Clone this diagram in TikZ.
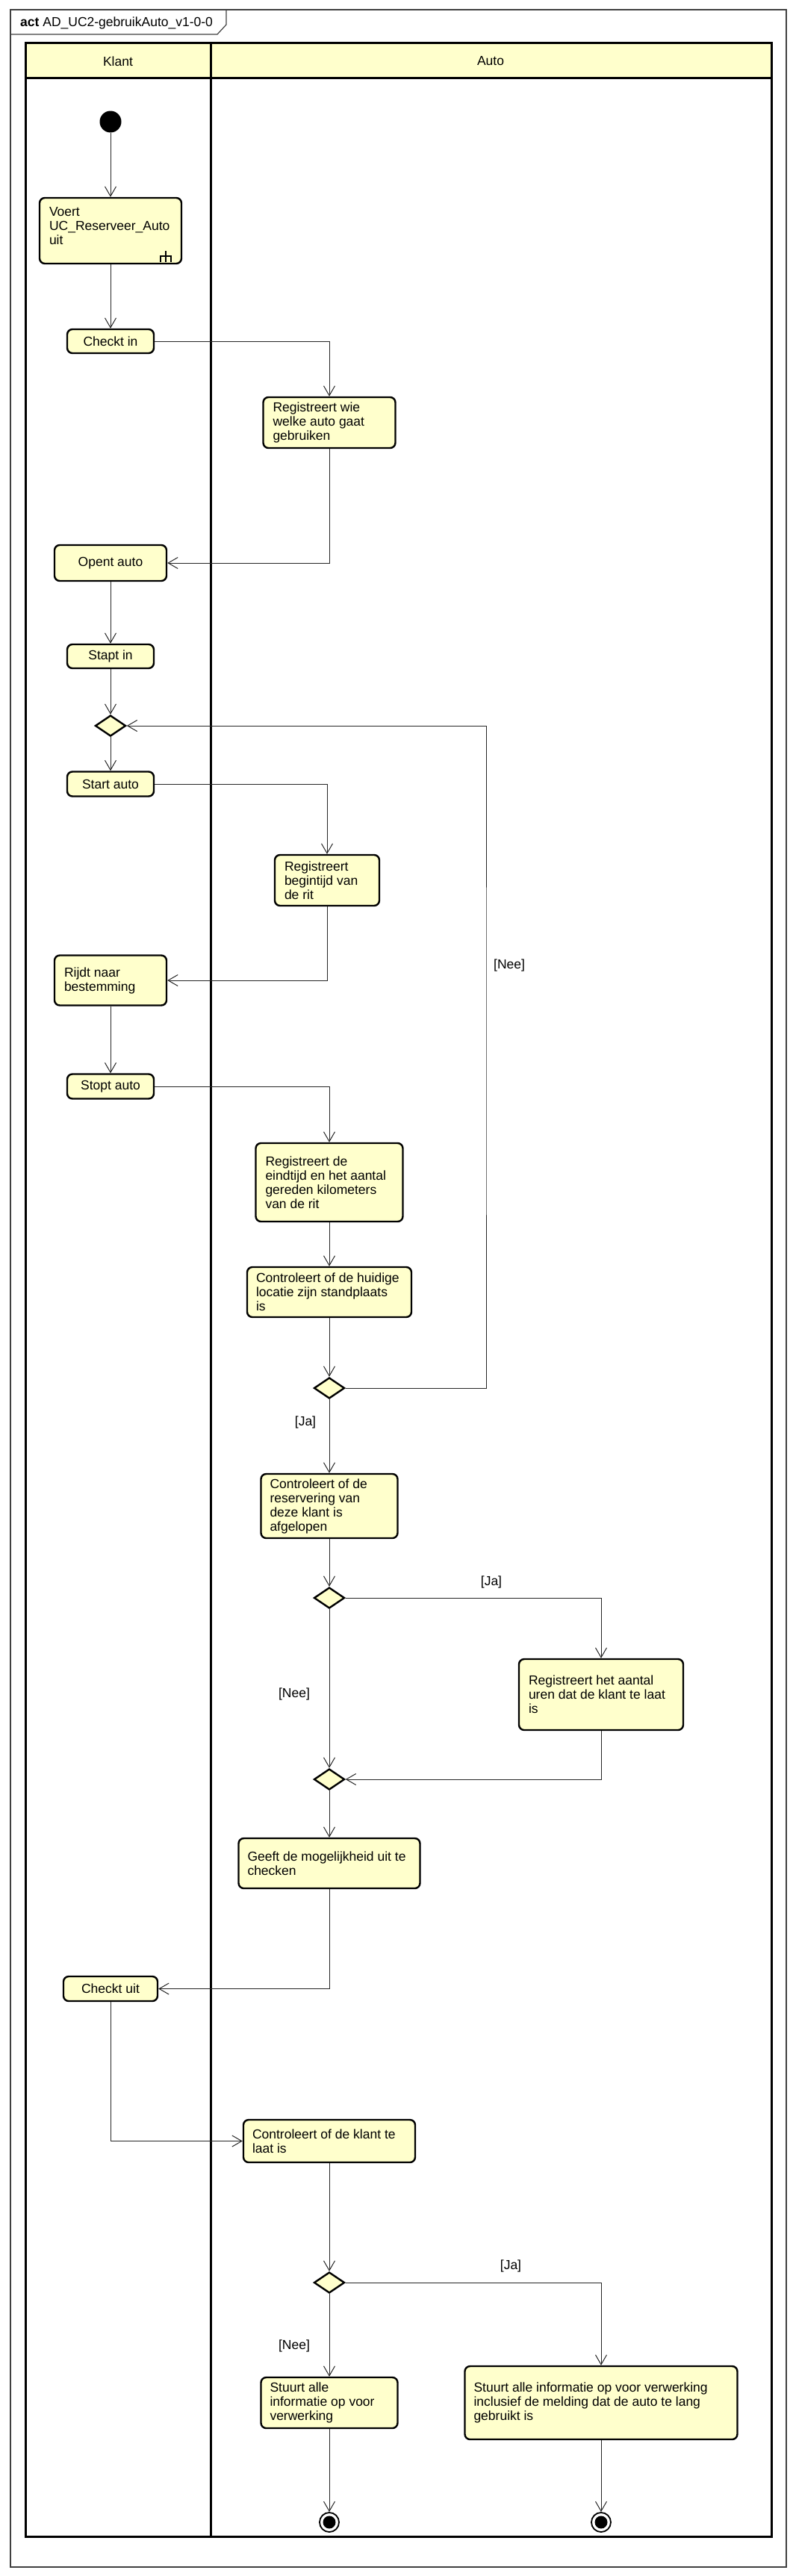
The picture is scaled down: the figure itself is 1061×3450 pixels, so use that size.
\documentclass[tikz,border=0pt]{standalone}
\usepackage{fontspec}
\setmainfont{Liberation Sans}
\usetikzlibrary{arrows.meta,shapes.geometric,calc}
\definecolor{umlyellow}{HTML}{FFFFCC}
\begin{document}
\begin{tikzpicture}[x=1pt,y=-1pt,
  every node/.style={font=\fontsize{17.5}{19}\selectfont},
  act/.style={draw=black, line width=2.4pt, fill=umlyellow, rounded corners=7pt, inner sep=0pt},
  txt/.style={align=left, inner sep=0pt, anchor=west},
  dec/.style={diamond, draw=black, line width=2.4pt, fill=umlyellow, minimum width=41pt, minimum height=28pt, inner sep=0pt},
  flow/.style={draw=black!85, line width=1pt, -{Straight Barb[length=13pt,width=15pt]}},
  lane/.style={draw=black, line width=3pt},
]
\useasboundingbox (0,0) rectangle (1061,3450);
% outer frame and title tab
\draw[black!75, line width=1.2pt] (14,13) rectangle (1053,3438);
\draw[black!75, line width=1.2pt] (14,46) -- (291,46) -- (303,33) -- (303,13);
\node[anchor=west, inner sep=0pt] (title) at (27,31) {\textbf{act} AD\_UC2-gebruikAuto\_v1-0-0};
% swimlanes
\fill[umlyellow] (34,58) rectangle (1033,104);
\draw[lane] (34,58) rectangle (1033,3397);
\draw[lane] (34,104) -- (1033,104);
\draw[lane] (282,58) -- (282,3397);
\node (hklant) at (158,82) {Klant};
\node (hauto) at (657,82) {Auto};

% Klant column
\node[circle, fill=black, minimum size=29pt, inner sep=0pt] (start) at (148,163) {};
\node[act, minimum width=190pt, minimum height=88pt] (voert) at (148,309) {};
\node[txt] (tvoert) at ([xshift=14pt,yshift=6pt]voert.west) {Voert\\UC\_Reserveer\_Auto\\uit};
\draw[line width=1.5pt] ($(voert.south east)+(-22,-18)$) -- ++(0,15);
\draw[line width=1.5pt] ($(voert.south east)+(-29,-3)$) -- ++(0,-8) -- ++(14,0) -- ++(0,8);

\node[act, minimum width=116pt, minimum height=32pt] (checkin) at (148,457) {Checkt in};
\node[act, minimum width=150pt, minimum height=48pt] (opent) at (148,754) {Opent auto};
\node[act, minimum width=116pt, minimum height=32pt] (stapt) at (148,879) {Stapt in};
\node[dec] (dia1) at (148,972) {};
\node[act, minimum width=116pt, minimum height=33pt] (startauto) at (148,1050) {Start auto};
\node[act, minimum width=150pt, minimum height=67pt] (rijdt) at (148,1313) {};
\node[txt] (trijdt) at ([xshift=14pt]rijdt.west) {Rijdt naar\\bestemming};
\node[act, minimum width=116pt, minimum height=33pt] (stopt) at (148,1455) {Stopt auto};
\node[act, minimum width=126pt, minimum height=33pt] (checkuit) at (148,2663.5) {Checkt uit};

% Auto column
\node[act, minimum width=177pt, minimum height=68pt] (regwie) at (441,566) {};
\node[txt] (tregwie) at ([xshift=14pt]regwie.west) {Registreert wie\\welke auto gaat\\gebruiken};
\node[act, minimum width=140pt, minimum height=68pt] (regbegin) at (438,1179) {};
\node[txt] (tregbegin) at ([xshift=14pt]regbegin.west) {Registreert\\begintijd van\\de rit};
\node[act, minimum width=197pt, minimum height=105pt] (regeind) at (441,1583.5) {};
\node[txt] (tregeind) at ([xshift=14pt]regeind.west) {Registreert de\\eindtijd en het aantal\\gereden kilometers\\van de rit};
\node[act, minimum width=220pt, minimum height=67pt] (ctrlloc) at (441,1730.5) {};
\node[txt] (tctrlloc) at ([xshift=13pt]ctrlloc.west) {Controleert of de huidige\\locatie zijn standplaats\\is};
\node[dec] (dia2) at (441,1859) {};
\node[act, minimum width=183pt, minimum height=86pt] (ctrlres) at (441,2017) {};
\node[txt] (tctrlres) at ([xshift=13pt]ctrlres.west) {Controleert of de\\reservering van\\deze klant is\\afgelopen};
\node[dec] (dia3) at (441,2140) {};
\node[act, minimum width=220pt, minimum height=95pt] (reguren) at (805,2269.5) {};
\node[txt] (treguren) at ([xshift=14pt]reguren.west) {Registreert het aantal\\uren dat de klant te laat\\is};
\node[dec] (dia4) at (441,2383) {};
\node[act, minimum width=243pt, minimum height=67pt] (geeft) at (441,2495.5) {};
\node[txt] (tgeeft) at ([xshift=13pt]geeft.west) {Geeft de mogelijkheid uit te\\checken};
\node[act, minimum width=230pt, minimum height=57pt] (ctrllaat) at (441,2867.5) {};
\node[txt] (tctrllaat) at ([xshift=13pt]ctrllaat.west) {Controleert of de klant te\\laat is};
\node[dec] (dia5) at (441,3057) {};
\node[act, minimum width=183pt, minimum height=68pt] (stuurt1) at (441,3218) {};
\node[txt] (tstuurt1) at ([xshift=13pt]stuurt1.west) {Stuurt alle\\informatie op voor\\verwerking};
\node[act, minimum width=365pt, minimum height=98pt] (stuurt2) at (805,3218) {};
\node[txt] (tstuurt2) at ([xshift=13pt]stuurt2.west) {Stuurt alle informatie op voor verwerking\\inclusief de melding dat de auto te lang\\gebruikt is};
\node[circle, draw=black, line width=1.8pt, fill=white, minimum size=26pt, inner sep=0pt] (end1) at (441,3378) {};
\node[circle, fill=black, minimum size=17pt, inner sep=0pt] (end1in) at (end1) {};
\node[circle, draw=black, line width=1.8pt, fill=white, minimum size=26pt, inner sep=0pt] (end2) at (805,3378) {};
\node[circle, fill=black, minimum size=17pt, inner sep=0pt] (end2in) at (end2) {};

% guards
\node (g1) at (661,1293) [anchor=west, inner sep=0pt] {[Nee]};
\node (g2) at (409,1905) {[Ja]};
\node (g3) at (658,2119) {[Ja]};
\node (g4) at (394,2269) {[Nee]};
\node (g5) at (684,3035) {[Ja]};
\node (g6) at (394,3142) {[Nee]};

% flows
\draw[flow] (start) -- (voert.north);
\draw[flow] (voert.south) -- (checkin.north);
\draw[flow] (checkin.east) -| (regwie.north);
\draw[flow] (regwie.south) |- (opent.east);
\draw[flow] (opent.south) -- (stapt.north);
\draw[flow] (stapt.south) -- (dia1.north);
\draw[flow] (dia1.south) -- (startauto.north);
\draw[flow] (startauto.east) -| (regbegin.north);
\draw[flow] (regbegin.south) |- (rijdt.east);
\draw[flow] (rijdt.south) -- (stopt.north);
\draw[flow] (stopt.east) -| (regeind.north);
\draw[flow] (regeind.south) -- (ctrlloc.north);
\draw[flow] (ctrlloc.south) -- (dia2.north);
\coordinate (loop) at (651,1400);
\draw[flow] (dia2.east) -| (loop) |- (dia1.east);
\draw[flow] (dia2.south) -- (ctrlres.north);
\draw[flow] (ctrlres.south) -- (dia3.north);
\draw[flow] (dia3.east) -| (reguren.north);
\draw[flow] (dia3.south) -- (dia4.north);
\draw[flow] (reguren.south) |- (dia4.east);
\draw[flow] (dia4.south) -- (geeft.north);
\draw[flow] (geeft.south) |- (checkuit.east);
\draw[flow] (checkuit.south) |- (ctrllaat.west);
\draw[flow] (ctrllaat.south) -- (dia5.north);
\draw[flow] (dia5.east) -| (stuurt2.north);
\draw[flow] (dia5.south) -- (stuurt1.north);
\draw[flow] (stuurt1.south) -- (end1.north);
\draw[flow] (stuurt2.south) -- (end2.north);
\end{tikzpicture}
\end{document}
